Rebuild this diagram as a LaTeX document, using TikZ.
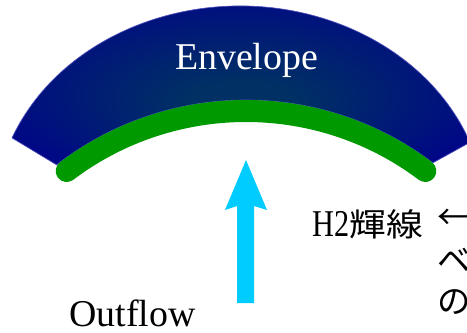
\documentclass[tikz,border=0pt]{standalone}
\usepackage{fontspec}
\setmainfont{Liberation Serif}
\newfontfamily\jp{Noto Sans CJK JP}
\definecolor{envout}{RGB}{0,0,140}
\definecolor{envin}{RGB}{0,48,100}
\definecolor{envedge}{RGB}{80,80,190}
\definecolor{h2green}{RGB}{0,153,0}
\definecolor{flowcyan}{RGB}{0,204,255}
\pgfdeclareradialshading{envshade}{\pgfpoint{0bp}{-10bp}}{color(0bp)=(envin); color(6bp)=(envin); color(32bp)=(envout); color(50bp)=(envout)}
\tikzset{
  bigtext/.style={font=\fontsize{28.4}{32}\selectfont, inner sep=0pt},
  jptext/.style={font=\jp\fontsize{25}{28}\selectfont, inner sep=0pt, anchor=west},
}
\begin{document}
\begin{tikzpicture}[x=0.75pt,y=0.75pt]
\useasboundingbox (0,0) rectangle (467,332);
\clip (0,0) rectangle (467,332);
% envelope: outer ellipse centre (240,115.6), inner circle centre (246,-77)
\coordinate (oL) at ({240+245.7*cos(158.1)},{115.6+210.4*sin(158.1)});
\coordinate (iR) at ({246+309*cos(52.8)},{-77+309*sin(52.8)});
\coordinate (gL) at ({246+298*cos(127)},{-77+298*sin(127)});
\path[shading=envshade, draw=envedge, line width=0.5pt]
  (oL) arc[start angle=158.1, end angle=20.6, x radius=245.7, y radius=210.4]
  -- (iR) arc[start angle=52.8, end angle=127.8, radius=309] -- cycle;
\draw[h2green, line width=16.5pt, line cap=round]
  (gL) arc[start angle=127, end angle=53, radius=298];
% outflow arrow
\coordinate (a1) at (237,29);
\coordinate (a2) at (237,126);
\coordinate (a3) at (225,122);
\coordinate (a4) at (246,172);
\coordinate (a5) at (267,122);
\coordinate (a6) at (254,126);
\coordinate (a7) at (254,29);
\fill[flowcyan] (a1) -- (a2) -- (a3) -- (a4) -- (a5) -- (a6) -- (a7) -- cycle;
% texts
\node[bigtext, text=white, anchor=base] (env) at (246.5,262) {Envelope};
\node[bigtext, anchor=base] (out) at (132.5,6) {Outflow};
\node[bigtext, anchor=base west] (h2) at (312,95.3)
  {\scalebox{0.8}[1]{H2}\scalebox{1.15}[1]{\jp\fontsize{24}{28}\selectfont 輝線}};
\node[jptext] (t1) at (437,113) {←};
\node[jptext] (t2) at (437,72) {ベ};
\node[jptext] (t3) at (437,30) {の};
\end{tikzpicture}
\end{document}
